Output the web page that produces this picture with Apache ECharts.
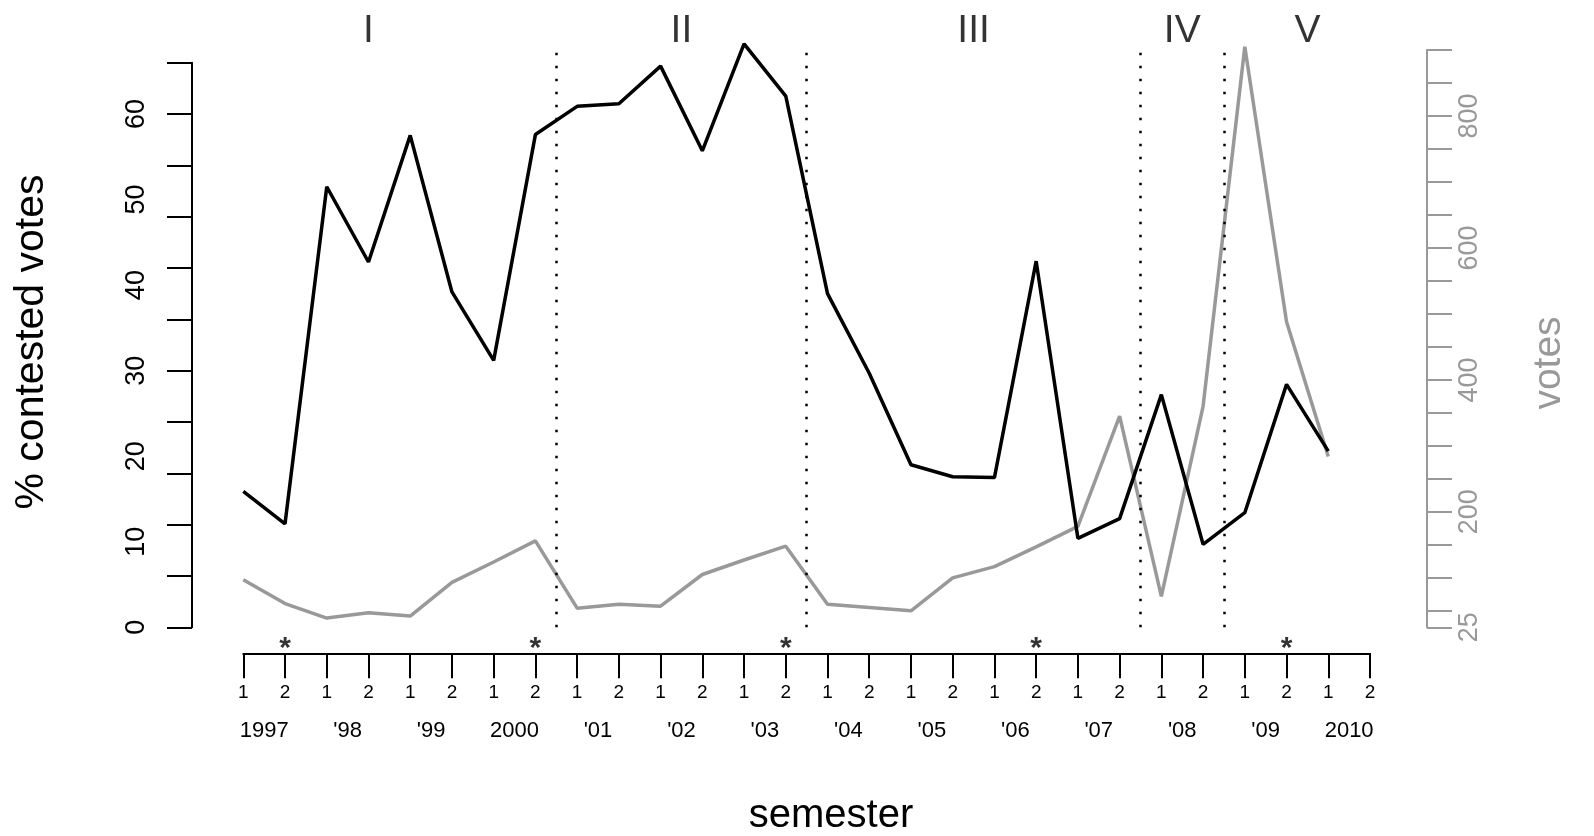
<!DOCTYPE html>
<html><head><meta charset="utf-8">
<script src="https://cdn.jsdelivr.net/npm/echarts@6/dist/echarts.min.js"></script>
<style>html,body{margin:0;padding:0;background:#fff}#c{width:1594px;height:836px}</style>
</head><body><div id="c"></div>
<script>
// ---- data ----
const semesterLabels = ['1','2','1','2','1','2','1','2','1','2','1','2','1','2','1','2','1','2','1','2','1','2','1','2','1','2','1','2'];
const yearLabels = ['1997',"'98","'99",'2000',"'01","'02","'03","'04","'05","'06","'07","'08","'09",'2010'];
const contested = [15.9, 12.1, 51.5, 42.7, 57.5, 39.2, 31.2, 57.6, 60.9, 61.2, 65.6, 55.7, 68.2, 62.1, 39.0, 29.7, 19.0, 17.6, 17.5, 42.8, 10.4, 12.7, 27.2, 9.7, 13.4, 28.4, 20.6];
const votes = [97, 61, 39, 47, 42, 93, 124, 156, 54, 60, 57, 105, 127, 148, 60, 55, 50, 100, 117, 147, 178, 345, 72, 360, 905, 488, 284];
const leftTickValues = [0, 6, 12, 18, 24, 30, 36, 42, 48, 54, 60, 66];
const leftLabelValues = [0, 10, 20, 30, 40, 50, 60];
const rightTickValues = [25, 50, 100, 150, 200, 250, 300, 350, 400, 450, 500, 550, 600, 650, 700, 750, 800, 850, 900];
const rightLabelValues = [25, 200, 400, 600, 800];
const periodBreaks = [7.5, 13.5, 21.5, 23.5];
const periodNames = ['I', 'II', 'III', 'IV', 'V'];
const periodCenters = [3, 10.5, 17.5, 22.5, 25.5];
const starSemesters = [1, 7, 13, 19, 25];

// ---- layout ----
const FONT = "'Liberation Sans', Arial, Helvetica, sans-serif";
const GRAY = '#999999';
const gl = 243.3, gr = 224;          // semester axis extent
const pl = 192, pr = 167;            // plot box (y axes) extent
const XMIN = -1.2293, XMAX = 28.366; // semester index at plot box edges
const plotBottom = 208.7;
const TITLE = 39;
const LABEL_ROW = 69.7;              // height of period labels (in % units)

const chart = echarts.init(document.getElementById('c'), null, {renderer: 'canvas'});
const semIdx = semesterLabels.map((_, i) => i);
const yearPos = yearLabels.map((_, k) => 2 * k + 0.5);

const option = {
  animation: false,
  backgroundColor: '#ffffff',
  textStyle: {fontFamily: FONT},
  grid: [
    {left: pl, right: pr, top: 62.7, bottom: plotBottom},
    {left: pl, right: pr, top: 50, bottom: plotBottom},
    {left: gl, right: gr, top: 652.3, height: 1},
    {left: gl, right: gr, top: 652.3, height: 1}
  ],
  xAxis: [
    {gridIndex: 0, type: 'value', min: XMIN, max: XMAX, show: false},
    {gridIndex: 1, type: 'value', min: XMIN, max: XMAX, show: false},
    {gridIndex: 2, type: 'value', min: 0, max: 27, position: 'bottom',
      axisLine: {show: true, onZero: false, lineStyle: {color: '#000', width: 2}},
      axisTick: {show: true, length: 25, lineStyle: {color: '#000', width: 2}, customValues: semIdx},
      axisLabel: {show: true, customValues: semIdx, color: '#000', fontSize: 19, fontFamily: FONT, margin: 30,
        formatter: v => semesterLabels[Math.round(v)]},
      splitLine: {show: false}},
    {gridIndex: 3, type: 'value', min: 0, max: 27, position: 'bottom',
      axisLine: {show: false, onZero: false}, axisTick: {show: false},
      axisLabel: {show: true, customValues: yearPos, color: '#000', fontSize: 22, fontFamily: FONT, margin: 67,
        formatter: v => yearLabels[Math.round((v - 0.5) / 2)]},
      splitLine: {show: false}}
  ],
  yAxis: [
    {gridIndex: 0, type: 'value', min: 0, max: 66, position: 'left',
      axisLine: {show: true, onZero: false, lineStyle: {color: '#000', width: 2}},
      axisTick: {show: true, length: 25, lineStyle: {color: '#000', width: 2}, customValues: leftTickValues},
      axisLabel: {show: true, customValues: leftLabelValues, rotate: 90, color: '#000', fontSize: 27, fontFamily: FONT, margin: 42},
      splitLine: {show: false}},
    {gridIndex: 1, type: 'value', min: 25, max: 900, position: 'right',
      axisLine: {show: true, onZero: false, lineStyle: {color: GRAY, width: 2}},
      axisTick: {show: true, length: 25, lineStyle: {color: GRAY, width: 2}, customValues: rightTickValues},
      axisLabel: {show: true, customValues: rightLabelValues, rotate: 90, color: GRAY, fontSize: 27, fontFamily: FONT, margin: 29},
      splitLine: {show: false}},
    {gridIndex: 2, type: 'value', min: 0, max: 1, show: false, axisLine: {onZero: false}},
    {gridIndex: 3, type: 'value', min: 0, max: 1, show: false, axisLine: {onZero: false}}
  ],
  series: [
    {type: 'line', name: 'votes', xAxisIndex: 1, yAxisIndex: 1, clip: false, z: 2,
      data: votes.map((v, i) => [i, v]), symbol: 'none',
      lineStyle: {color: GRAY, width: 3.5},
      markLine: {silent: true, symbol: 'none', label: {show: false},
        lineStyle: {color: '#000', width: 2.5, type: [2.5, 10.5], cap: 'butt'},
        data: periodBreaks.map(x => ({xAxis: x}))}},
    {type: 'line', name: 'contested', xAxisIndex: 0, yAxisIndex: 0, clip: false, z: 3,
      data: contested.map((v, i) => [i, v]), symbol: 'none',
      lineStyle: {color: '#000', width: 3.5}},
    {type: 'scatter', xAxisIndex: 0, yAxisIndex: 0, clip: false, silent: true,
      symbolSize: 1, itemStyle: {color: 'rgba(0,0,0,0)'},
      data: periodCenters.map((x, k) => ({value: [x, LABEL_ROW], name: periodNames[k]})),
      label: {show: true, position: 'inside', formatter: p => p.name, color: '#000', fontSize: 39, fontFamily: FONT}},
    {type: 'scatter', xAxisIndex: 2, yAxisIndex: 2, clip: false, silent: true,
      symbolSize: 1, itemStyle: {color: 'rgba(0,0,0,0)'},
      data: starSemesters.map(i => [i, 1]),
      label: {show: true, position: 'inside', formatter: '*', color: '#000', fontSize: 30, fontFamily: FONT, fontWeight: 'bold', offset: [0, -4]}}
  ],
  graphic: [
    {type: 'text', x: 32, y: 342, rotation: Math.PI / 2,
      style: {text: '% contested votes', fill: '#000', font: '41px ' + FONT, align: 'center', verticalAlign: 'middle'}},
    {type: 'text', x: 1549, y: 363, rotation: Math.PI / 2,
      style: {text: 'votes', fill: GRAY, font: TITLE + 'px ' + FONT, align: 'center', verticalAlign: 'middle'}},
    {type: 'text', x: 831, y: 816,
      style: {text: 'semester', fill: '#000', font: '40px ' + FONT, align: 'center', verticalAlign: 'middle'}}
  ]
};
chart.setOption(option);
</script></body></html>
